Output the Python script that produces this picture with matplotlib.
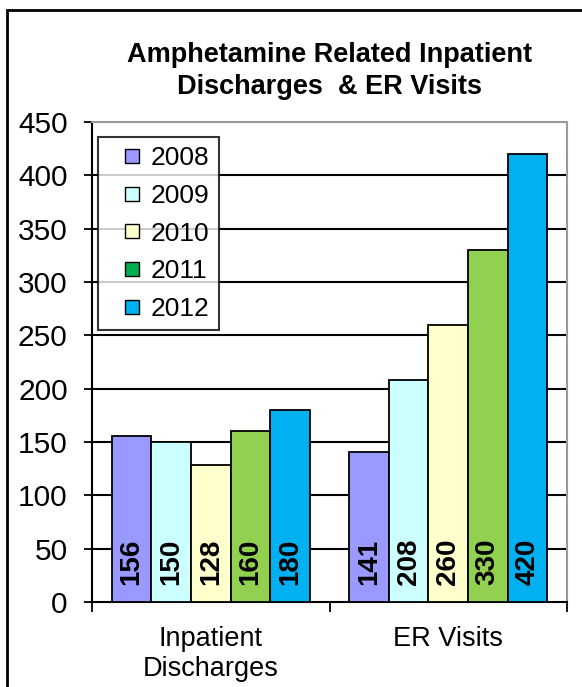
import matplotlib
matplotlib.use("Agg")
import matplotlib.pyplot as plt
from matplotlib.lines import Line2D
from matplotlib.patches import Rectangle
import numpy as np

plt.rcParams['font.family'] = ['Liberation Sans', 'DejaVu Sans']

categories = ["Inpatient\nDischarges", "ER Visits"]
years = ["2008", "2009", "2010", "2011", "2012"]
values = {
    "2008": [156, 141],
    "2009": [150, 208],
    "2010": [128, 260],
    "2011": [160, 330],
    "2012": [180, 420],
}
bar_colors = ["#9999FF", "#CCFFFF", "#FFFFCC", "#92D050", "#00B0F0"]
legend_colors = ["#9999FF", "#CCFFFF", "#FFFFCC", "#00B050", "#00B0F0"]
yticks = [0, 50, 100, 150, 200, 250, 300, 350, 400, 450]

W, H = 582, 687
fig = plt.figure(figsize=(W / 100, H / 100), dpi=100)
ax = fig.add_axes([92 / W, 1 - 602 / H, (567 - 92) / W, (602 - 122) / H])

x = np.arange(len(categories))
bw = 1 / 6
for i, yr in enumerate(years):
    xs = x + (i - 2) * bw
    ax.bar(xs, values[yr], width=bw, color=bar_colors[i], edgecolor="black",
           linewidth=1.3, zorder=3)
    for xi, v in zip(xs, values[yr]):
        ax.text(xi, 16, str(v), rotation=90, ha="center", va="bottom",
                fontsize=20, fontweight="bold", color="black", zorder=4)

ax.set_xlim(-0.5, 1.5)
ax.set_ylim(0, 450)
ax.set_yticks(yticks)
ax.set_yticklabels([str(t) for t in yticks], fontsize=21.5)
for t in yticks[1:-1]:
    ax.axhline(t, color="black", linewidth=1.5, zorder=1)
ax.tick_params(axis="y", direction="inout", length=11, width=1.3, pad=12)
ax.set_xticks(x)
ax.set_xticklabels(categories, fontsize=19.5, linespacing=1.2)
ax.tick_params(axis="x", length=0, pad=17)
ax.set_xticks([-0.5, 0.5, 1.5], minor=True)
ax.tick_params(axis="x", which="minor", direction="out", length=7, width=1.3)

for s in ["left", "bottom"]:
    ax.spines[s].set_color("black")
    ax.spines[s].set_linewidth(1.5)
for s in ["top", "right"]:
    ax.spines[s].set_color("#999999")
    ax.spines[s].set_linewidth(1.5)

handles = [Line2D([], [], marker="s", linestyle="none", markersize=10,
                  markerfacecolor=c, markeredgecolor="black", markeredgewidth=1.0)
           for c in legend_colors]
leg = ax.legend(handles, years, loc="upper left",
                bbox_to_anchor=((98 - 92) / 475, (602 - 137) / 480),
                borderaxespad=0, fontsize=19, frameon=True, fancybox=False,
                handlelength=1.9, handletextpad=-0.25, labelspacing=0.52,
                borderpad=0.35)
leg.get_frame().set_edgecolor("black")
leg.get_frame().set_linewidth(1.5)
leg.set_zorder(5)

fig.text(0.5 * (92 + 567) / W, 1 - 71 / H,
         "Amphetamine Related Inpatient\nDischarges  & ER Visits",
         ha="center", va="center", fontsize=19.5, fontweight="bold",
         linespacing=1.25)

fig.patches.append(Rectangle((7 / W, -0.1), 1.2, 1 - 10 / H + 0.1,
                             transform=fig.transFigure, fill=False,
                             edgecolor="black", linewidth=2))

fig.savefig("out.png", dpi=100)
